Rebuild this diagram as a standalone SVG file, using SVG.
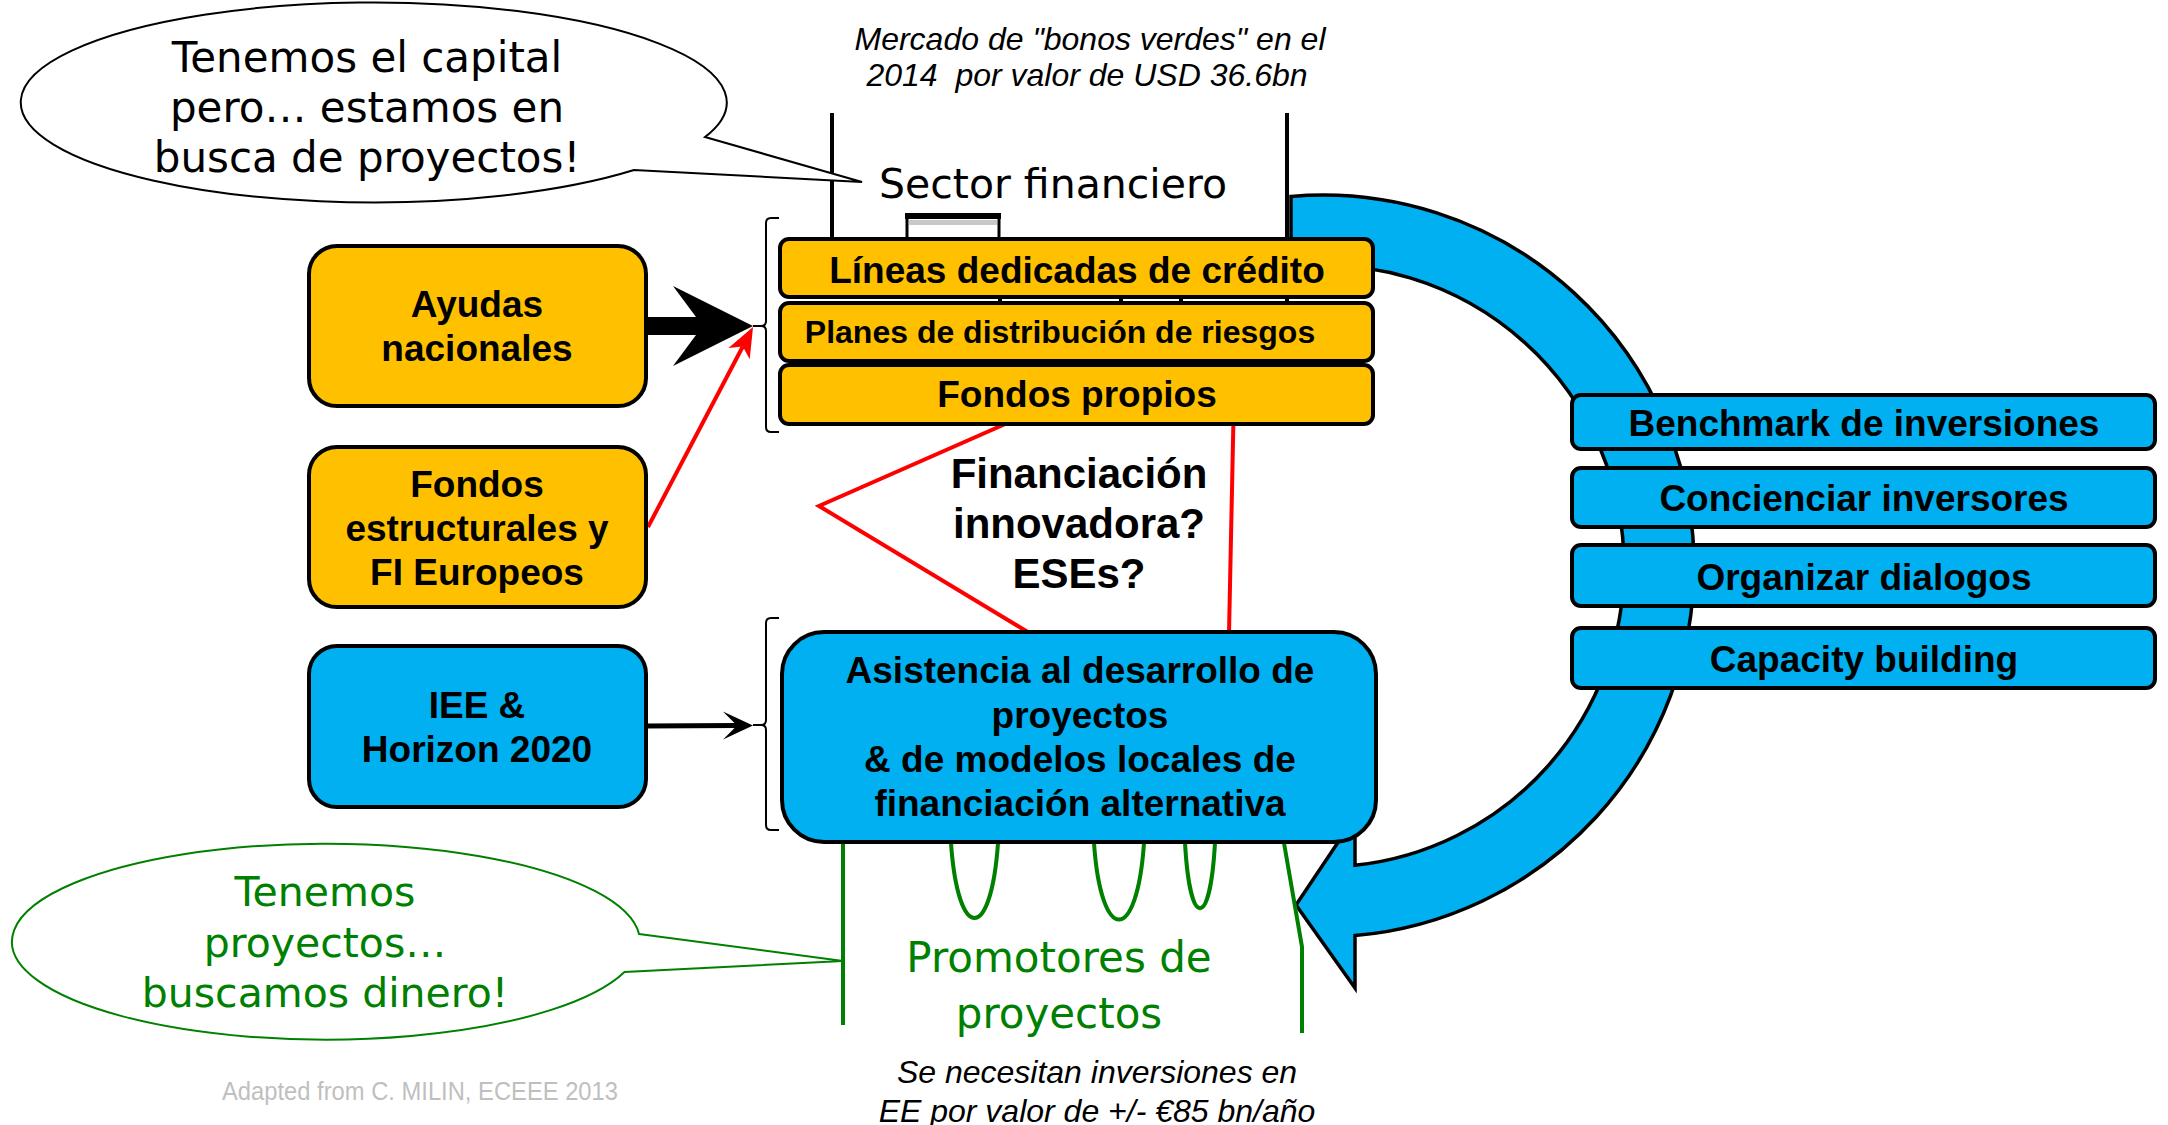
<svg xmlns="http://www.w3.org/2000/svg" width="2168" height="1125" viewBox="0 0 2168 1125">
<defs>
<style>
.yb{fill:#ffc000;stroke:#000;stroke-width:4}
.bb{fill:#00b0f0;stroke:#000;stroke-width:4}
.nt{font-family:"Liberation Sans",Arial,sans-serif;font-weight:bold;font-size:37px;text-anchor:middle;fill:#000}
.nt32{font-size:32px}
.nt42{font-size:42px}
.vt{font-family:"DejaVu Sans",Verdana,sans-serif;font-size:42px;text-anchor:middle}
.vt41{font-size:41px}
.it{font-family:"Liberation Sans",Arial,sans-serif;font-style:italic;font-size:32px;text-anchor:middle;fill:#000}
.bk{fill:none;stroke:#000;stroke-width:2}
.bl{stroke:#000;stroke-width:4;fill:none}
.gl{stroke:#008000;stroke-width:4;fill:none}
.rl{stroke:#ff0000;stroke-width:4;fill:none}
</style>
<marker id="arrRed" markerUnits="userSpaceOnUse" viewBox="-10 -14 34 28" markerWidth="34" markerHeight="28" refX="0" refY="0" orient="auto">
<path d="M22,0 L-8,-12 L0,0 L-8,12 Z" fill="#ff0000"/>
</marker>
<marker id="arrBlk" markerUnits="userSpaceOnUse" viewBox="-16 -16 34 32" markerWidth="34" markerHeight="32" refX="0" refY="0" orient="auto">
<path d="M16,0 L-14,-14 L0,0 L-14,14 Z" fill="#000"/>
</marker>
</defs>
<rect width="2168" height="1125" fill="#fff"/>

<!-- financial sector building -->
<g id="building">
<line class="bl" x1="832" y1="113" x2="832" y2="242"/>
<line class="bl" x1="1287" y1="113" x2="1287" y2="365"/>
<line class="bl" x1="1000" y1="240" x2="1000" y2="305"/>
<line class="bl" x1="1121" y1="240" x2="1121" y2="305"/>
<line class="bl" x1="1181" y1="240" x2="1181" y2="305"/>
<rect x="907" y="217" width="92" height="26" fill="#fff" stroke="#000" stroke-width="3"/>
<rect x="905" y="213" width="96" height="6" fill="#000"/>
<rect x="909" y="220" width="88" height="5" fill="#c8c8c8"/>
</g>

<!-- circular blue arrow -->
<g id="cycle-arrow">
<path d="M1291 196.4 A371 371 0 0 1 1694 566 A371 371 0 0 1 1355 935.6 L1355 988 L1296 905 L1355 817 L1355 865.3 A301 301 0 0 0 1624 566 A301 301 0 0 0 1291 266.7 Z" fill="#00b0f0" stroke="#000" stroke-width="3.5" stroke-linejoin="miter"/>
</g>

<!-- connectors -->
<g id="connectors">
<polyline class="rl" points="1180,347 819,506 1031,634"/>
<line class="rl" x1="1235" y1="345" x2="1229" y2="634"/>
<line class="rl" x1="648" y1="527" x2="742.8" y2="346.5" marker-end="url(#arrRed)"/>
<path d="M646 317 L696 317 L673 286 L753 326 L673 366 L696 335 L646 335 Z" fill="#000"/>
<line x1="646" y1="726" x2="737" y2="725.5" stroke="#000" stroke-width="5" marker-end="url(#arrBlk)"/>
<path class="bk" d="M779 218 L771 218 Q766 218 766 223 L766 321 Q766 326 761 326 L753 326 M761 326 Q766 326 766 331 L766 427 Q766 432 771 432 L779 432"/>
<path class="bk" d="M779 618 L771 618 Q766 618 766 623 L766 720 Q766 725 761 725 L753 725 M761 725 Q766 725 766 730 L766 825 Q766 830 771 830 L779 830"/>
<path class="gl" d="M951 843 C958 943 991 943 998 843"/>
<path class="gl" d="M1094 843 C1101 945 1137 945 1144 843"/>
<path class="gl" d="M1185 843 C1190 930 1210 930 1215 843"/>
<line class="gl" x1="843" y1="842" x2="843" y2="1025"/>
<polyline class="gl" points="1284,843 1302,947 1302,1033"/>
</g>

<!-- speech bubbles -->
<g id="bubble-capital">
<path d="M705 137 L862 182 L634 170 A353 100 0 1 1 705 137 Z" fill="#fff" stroke="#000" stroke-width="2"/>
<text class="vt" x="367" y="72" fill="#000">Tenemos el capital</text>
<text class="vt" x="367" y="122" fill="#000">pero… estamos en</text>
<text class="vt" x="367" y="172" fill="#000">busca de proyectos!</text>
</g>
<g id="bubble-proyectos">
<path d="M639 934 L843 961 L624.5 972 A314 98 0 1 1 639 934 Z" fill="#fff" stroke="#008000" stroke-width="2"/>
<text class="vt vt41" x="325" y="906" fill="#008000">Tenemos</text>
<text class="vt vt41" x="325" y="957" fill="#008000">proyectos…</text>
<text class="vt vt41" x="325" y="1007" fill="#008000">buscamos dinero!</text>
</g>

<!-- labels -->
<g id="label-mercado">
<text class="it" x="1090" y="50">Mercado de "bonos verdes" en el</text>
<text class="it" x="1087" y="86" xml:space="preserve">2014  por valor de USD 36.6bn</text>
</g>
<g id="label-sector">
<text class="vt vt41" x="1053" y="198" fill="#000">Sector financiero</text>
</g>
<g id="label-promotores">
<text class="vt" x="1059" y="972" fill="#008000">Promotores de</text>
<text class="vt" x="1059" y="1028" fill="#008000">proyectos</text>
</g>
<g id="label-inversiones">
<text class="it" x="1097" y="1083">Se necesitan inversiones en</text>
<text class="it" x="1097" y="1122">EE por valor de +/- €85 bn/año</text>
</g>
<g id="label-innovadora">
<text class="nt nt42" x="1079" y="488">Financiación</text>
<text class="nt nt42" x="1079" y="538">innovadora?</text>
<text class="nt nt42" x="1079" y="588">ESEs?</text>
</g>
<g id="label-source">
<text x="420" y="1100" font-family="Liberation Sans, Arial, sans-serif" font-size="26" fill="#bfbfbf" text-anchor="middle" textLength="396" lengthAdjust="spacingAndGlyphs">Adapted from C. MILIN, ECEEE 2013</text>
</g>

<!-- left nodes -->
<g id="node-ayudas">
<rect class="yb" x="309" y="246" width="337" height="160" rx="28"/>
<text class="nt" x="477" y="317">Ayudas</text>
<text class="nt" x="477" y="361">nacionales</text>
</g>
<g id="node-fondos-estructurales">
<rect class="yb" x="309" y="447" width="337" height="160" rx="28"/>
<text class="nt" x="477" y="497">Fondos</text>
<text class="nt" x="477" y="541">estructurales y</text>
<text class="nt" x="477" y="585">FI Europeos</text>
</g>
<g id="node-iee">
<rect class="bb" x="309" y="646" width="337" height="161" rx="28"/>
<text class="nt" x="477" y="718">IEE &amp;</text>
<text class="nt" x="477" y="762">Horizon 2020</text>
</g>

<!-- financial instruments -->
<g id="node-lineas">
<rect class="yb" x="780" y="239" width="593" height="58" rx="9"/>
<text class="nt" x="1077" y="283">Líneas dedicadas de crédito</text>
</g>
<g id="node-planes">
<rect class="yb" x="780" y="303" width="593" height="58" rx="9"/>
<text class="nt nt32" x="1060" y="343">Planes de distribución de riesgos</text>
</g>
<g id="node-fondos-propios">
<rect class="yb" x="780" y="365" width="593" height="59" rx="9"/>
<text class="nt" x="1077" y="407">Fondos propios</text>
</g>
<g id="node-asistencia">
<rect class="bb" x="782" y="632" width="594" height="210" rx="42"/>
<text class="nt" x="1080" y="683">Asistencia al desarrollo de</text>
<text class="nt" x="1080" y="728">proyectos</text>
<text class="nt" x="1080" y="772">&amp; de modelos locales de</text>
<text class="nt" x="1080" y="816">financiación alternativa</text>
</g>

<!-- right actions -->
<g id="node-benchmark">
<rect class="bb" x="1572" y="395" width="583" height="54" rx="9"/>
<text class="nt" x="1864" y="436">Benchmark de inversiones</text>
</g>
<g id="node-concienciar">
<rect class="bb" x="1572" y="468" width="583" height="59" rx="9"/>
<text class="nt" x="1864" y="511">Concienciar inversores</text>
</g>
<g id="node-organizar">
<rect class="bb" x="1572" y="545" width="583" height="61" rx="9"/>
<text class="nt" x="1864" y="590">Organizar dialogos</text>
</g>
<g id="node-capacity">
<rect class="bb" x="1572" y="628" width="583" height="60" rx="9"/>
<text class="nt" x="1864" y="672">Capacity building</text>
</g>
</svg>
